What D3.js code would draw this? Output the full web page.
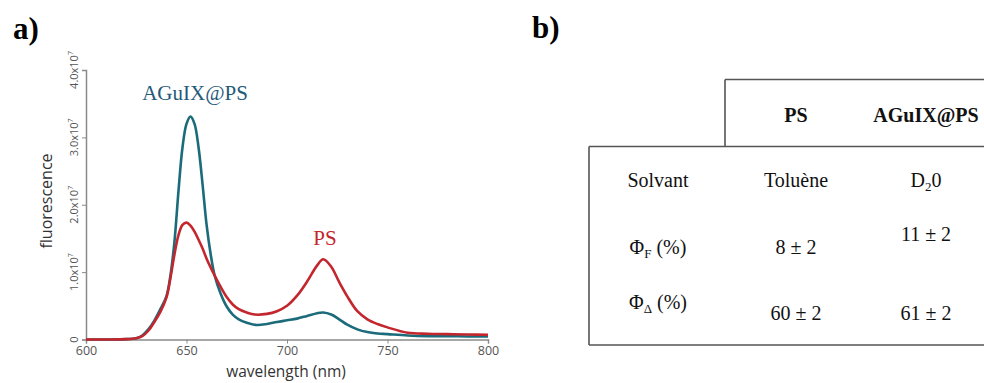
<!DOCTYPE html>
<html><head><meta charset="utf-8">
<script src="https://cdn.jsdelivr.net/npm/d3@7"></script>
<style>body{margin:0;background:#fff}svg{display:block}</style>
</head><body>
<svg id="c" width="984" height="383"></svg>
<script>
// wavelength (nm)
const wlTeal = [600,610,620,625,628,631,634,637,640,642,644,646,648,650,652,654,656,658,660,662,664,667,670,673,676,680,685,690,695,700,705,710,715,718,722,726,730,735,740,745,750,760,770,780,790,800];
// AGuIX@PS fluorescence (x1e7)
const valTeal = [0,0,0.005,0.02,0.06,0.15,0.28,0.45,0.64,0.95,1.45,2.2,2.85,3.2,3.31,3.2,2.85,2.3,1.7,1.27,0.95,0.68,0.49,0.37,0.30,0.25,0.215,0.23,0.26,0.285,0.31,0.35,0.39,0.40,0.37,0.30,0.22,0.15,0.11,0.09,0.08,0.06,0.05,0.05,0.045,0.045];
const wlRed = [600,610,620,625,628,631,634,637,640,642,644,646,648,650,652,654,656,658,660,662,664,667,670,673,676,680,684,690,695,700,705,710,715,718,722,726,730,735,740,745,750,760,770,780,790,800];
// PS fluorescence (x1e7)
const valRed = [0,0,0.005,0.02,0.05,0.13,0.26,0.41,0.62,0.91,1.26,1.55,1.7,1.735,1.69,1.6,1.48,1.35,1.2,1.07,0.95,0.78,0.63,0.52,0.45,0.40,0.37,0.38,0.42,0.5,0.65,0.86,1.1,1.19,1.08,0.85,0.64,0.42,0.30,0.23,0.18,0.10,0.085,0.08,0.075,0.07];
const xTicks = [600,650,700,750,800];
const yTicks = [0,1,2,3,4];
const yTickLabels = ["0","1.0x10","2.0x10","3.0x10","4.0x10"];

// table
const colHeaders = ["PS","AGuIX@PS"];
const rowSolvant = ["Solvant","Toluène","D"];
const rowPhiF = ["8 ± 2","11 ± 2"];
const rowPhiD = ["60 ± 2","61 ± 2"];

const svg = d3.select("#c");
const x = d3.scaleLinear().domain([600,800]).range([86,488]);
const y = d3.scaleLinear().domain([0,4]).range([339.5,70]);

const sans = "'Open Sans', sans-serif";
const serif = "'Liberation Serif', serif";

// panel labels
svg.append("text").attr("x",13).attr("y",39).attr("font-family",serif).attr("font-weight","bold").attr("font-size",31).text("a)");
svg.append("text").attr("x",532).attr("y",38).attr("font-family",serif).attr("font-weight","bold").attr("font-size",31).text("b)");

// axes
const axCol = "#8a8a8a";
const gx = svg.append("g").attr("transform","translate(0,339.5)")
  .call(d3.axisBottom(x).tickValues(xTicks).tickSize(4).tickFormat(d3.format("d")));
gx.select(".domain").attr("stroke",axCol).attr("stroke-width",1.5);
gx.selectAll(".tick line").attr("stroke",axCol);
gx.selectAll(".tick text").attr("font-family",sans).attr("font-size",12.5).attr("fill","#555").attr("dy","0.7em");

const gy = svg.append("g").attr("transform","translate(86,0)")
  .call(d3.axisLeft(y).tickValues(yTicks).tickSize(4).tickFormat(""));
gy.select(".domain").attr("stroke",axCol).attr("stroke-width",1.5);
gy.selectAll(".tick line").attr("stroke",axCol);
yTicks.forEach((v,i)=>{
  const t = svg.append("text").attr("transform",`translate(78,${y(v)}) rotate(-90)`)
    .attr("text-anchor","middle").attr("font-family",sans).attr("font-size",11).attr("fill","#555");
  t.append("tspan").text(yTickLabels[i]);
  if(i>0) t.append("tspan").attr("font-size",7).attr("dy",-5).text("7");
});

svg.append("text").attr("transform","translate(52,201) rotate(-90)").attr("text-anchor","middle")
  .attr("font-family",sans).attr("font-size",16).attr("fill","#333").text("fluorescence");
svg.append("text").attr("x",286).attr("y",377).attr("text-anchor","middle")
  .attr("font-family",sans).attr("font-size",15.5).attr("fill","#333").text("wavelength (nm)");

// lines
const line = d3.line().x(d=>x(d[0])).y(d=>y(d[1])).curve(d3.curveCatmullRom.alpha(0.5));
svg.append("path").datum(d3.zip(wlTeal,valTeal)).attr("d",line).attr("fill","none").attr("stroke","#1b6b7b").attr("stroke-width",2.6);
svg.append("path").datum(d3.zip(wlRed,valRed)).attr("d",line).attr("fill","none").attr("stroke","#c4262e").attr("stroke-width",2.6);

svg.append("text").attr("x",195).attr("y",100).attr("text-anchor","middle").attr("font-family",serif).attr("font-size",21).attr("fill","#1f5a7a").text("AGuIX@PS");
svg.append("text").attr("x",325).attr("y",245).attr("text-anchor","middle").attr("font-family",serif).attr("font-size",21).attr("fill","#c4262e").text("PS");

// table lines
const lc = "#555";
const tl = svg.append("g").attr("stroke",lc).attr("stroke-width",1.6).attr("fill","none");
tl.append("path").attr("d","M725,79.5H984M725,79.5V146.5M589,146.5H984M589,146.5V345M589,345H984");

const colX = [796, 926];
const labX = 658;
const tt = (xx,yy,s,bold)=>svg.append("text").attr("x",xx).attr("y",yy).attr("text-anchor","middle")
  .attr("font-family",serif).attr("font-size",20).attr("fill","#111").attr("font-weight",bold?"bold":"normal").text(s);
colHeaders.forEach((h,i)=>tt(colX[i],122,h,true));
tt(labX,187,rowSolvant[0]);
tt(colX[0],187,rowSolvant[1]);
const d2 = tt(colX[1],187,rowSolvant[2]);
d2.append("tspan").attr("font-size",13).attr("dy",4).text("2");
d2.append("tspan").attr("dy",-4).text("0");

const pf = tt(labX,254,"Φ");
pf.append("tspan").attr("font-size",13).attr("dy",4).text("F");
pf.append("tspan").attr("dy",-4).text(" (%)");
tt(colX[0],254,rowPhiF[0]);
tt(colX[1],241,rowPhiF[1]);
const pd = tt(labX,309,"Φ");
pd.append("tspan").attr("font-size",13).attr("dy",4).text("Δ");
pd.append("tspan").attr("dy",-4).text(" (%)");
tt(colX[0],320,rowPhiD[0]);
tt(colX[1],320,rowPhiD[1]);
</script>
</body></html>
